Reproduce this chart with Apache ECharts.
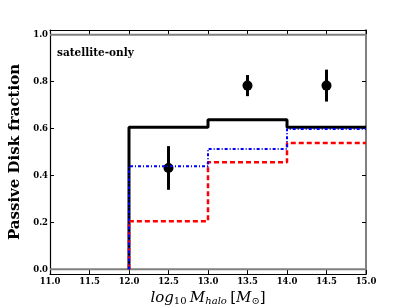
<!DOCTYPE html>
<html><head><meta charset="utf-8">
<script src="https://cdn.jsdelivr.net/npm/echarts@6/dist/echarts.min.js"></script>
<style>html,body{margin:0;padding:0;background:#fff}#c{width:407px;height:305px}</style>
</head><body><div id="c"></div>
<script>
const binEdges = [12, 13, 14, 15];
const blackVals = [0.605, 0.637, 0.605];
const redVals = [0.205, 0.456, 0.538];
const blueVals = [0.439, 0.513, 0.598];
const obsX = [12.5, 13.5, 14.5];
const obsY = [0.432, 0.783, 0.783];
const obsErr = [0.093, 0.045, 0.068];
const xTicks = [11.0, 11.5, 12.0, 12.5, 13.0, 13.5, 14.0, 14.5, 15.0];
const yTicks = [0.0, 0.2, 0.4, 0.6, 0.8, 1.0];
const refLines = [0, 1];
const xRange = [11, 15];
const yRange = [-0.02, 1.02];

function stepData(vals) {
  const d = [[binEdges[0], 0]];
  for (let i = 0; i < vals.length; i++) d.push([binEdges[i], vals[i]]);
  d.push([binEdges[binEdges.length - 1], vals[vals.length - 1]]);
  return d;
}
const font = 'DejaVu Serif';
const chart = echarts.init(document.getElementById('c'));
const tickLbl = {fontFamily: font, fontWeight: 'bold', fontSize: 8.5, color: '#000'};
const refSeries = refLines.map(v => ({
  type: 'line', data: xRange.map(x => [x, v]), showSymbol: false, silent: true,
  lineStyle: {color: '#808080', width: 2}, z: 1
}));
chart.setOption({
  animation: false,
  grid: {left: 50, top: 30, width: 316, height: 244, containLabel: false, outerBoundsMode: 'none'},
  xAxis: [{
    type: 'value', min: xRange[0], max: xRange[1],
    axisLine: {onZero: false, lineStyle: {color: '#000', width: 1.2}},
    axisTick: {inside: true, length: 4, customValues: xTicks, lineStyle: {color: '#000'}},
    splitLine: {show: false},
    axisLabel: Object.assign({margin: 3, customValues: xTicks, formatter: v => v.toFixed(1)}, tickLbl),
    name: '{i|log}{s|10} {i|M}{si|halo} {n|[}{i|M}{s|⊙}{n|]}',
    nameLocation: 'middle', nameGap: 10,
    nameTextStyle: {verticalAlign: 'top', rich: {
      i: {fontFamily: font, fontStyle: 'italic', fontSize: 15, color: '#000'},
      s: {fontFamily: font, fontSize: 10, color: '#000', verticalAlign: 'bottom', padding: [6,0,0,0]},
      si: {fontFamily: font, fontStyle: 'italic', fontSize: 10, color: '#000', verticalAlign: 'bottom', padding: [6,0,0,0]},
      n: {fontFamily: font, fontSize: 15, color: '#000'}
    }}
  }, {
    type: 'value', min: xRange[0], max: xRange[1], position: 'top',
    axisLine: {onZero: false, lineStyle: {color: '#000', width: 1.2}},
    axisTick: {inside: true, length: 4, customValues: xTicks, lineStyle: {color: '#000'}},
    axisLabel: {show: false}, splitLine: {show: false}
  }],
  yAxis: [{
    type: 'value', min: yRange[0], max: yRange[1],
    axisLine: {onZero: false, lineStyle: {color: '#000', width: 1.2}},
    axisTick: {inside: true, length: 4, customValues: yTicks, lineStyle: {color: '#000'}},
    splitLine: {show: false},
    axisLabel: Object.assign({margin: 2, customValues: yTicks, formatter: v => v.toFixed(1)}, tickLbl),
    name: 'Passive Disk fraction', nameLocation: 'middle', nameGap: 21,
    nameTextStyle: {fontFamily: font, fontWeight: 'bold', fontSize: 15, color: '#000'}
  }, {
    type: 'value', min: yRange[0], max: yRange[1], position: 'right',
    axisLine: {onZero: false, lineStyle: {color: '#808080', width: 2}},
    axisTick: {inside: true, length: 4, customValues: yTicks, lineStyle: {color: '#000'}},
    splitLine: {show: false}, axisLabel: {show: false}
  }],
  graphic: [{
    type: 'text', left: 57, top: 48,
    style: {text: 'satellite-only', fontFamily: font, fontWeight: 'bold', fontSize: 10.5, fill: '#000'}
  }],
  series: refSeries.concat([
    {type: 'line', step: 'end', data: stepData(blackVals), showSymbol: false,
     lineStyle: {color: '#000', width: 3}},
    {type: 'line', step: 'end', data: stepData(redVals), showSymbol: false,
     lineStyle: {color: '#ff0000', width: 2.5, type: [5, 3]}},
    {type: 'line', step: 'end', data: stepData(blueVals), showSymbol: false,
     lineStyle: {color: '#0000ff', width: 2, type: [3, 2, 1, 2]}},
    {type: 'custom',
     data: obsX.map((x, i) => [x, obsY[i] - obsErr[i], obsY[i] + obsErr[i]]),
     renderItem: (params, api) => {
       const p0 = api.coord([api.value(0), api.value(1)]);
       const p1 = api.coord([api.value(0), api.value(2)]);
       return {type: 'line', shape: {x1: p0[0], y1: p0[1], x2: p1[0], y2: p1[1]},
               style: {stroke: '#000', lineWidth: 3}};
     }},
    {type: 'scatter', data: obsX.map((x, i) => [x, obsY[i]]),
     symbol: 'circle', symbolSize: 10, itemStyle: {color: '#000', opacity: 1}}
  ])
});
</script></body></html>
